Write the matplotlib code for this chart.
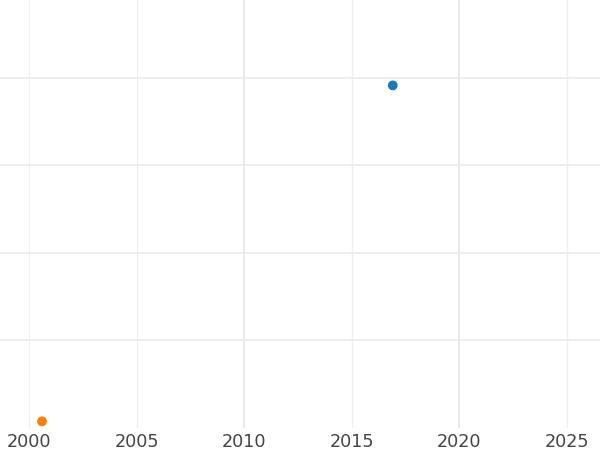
import matplotlib
matplotlib.use("Agg")
import matplotlib.pyplot as plt
from matplotlib.ticker import FixedLocator, FormatStrFormatter

# data
years = [2016.9, 2000.6]
values = [3.91, 0.07]
colors = ["#1f77b4", "#ff7f0e"]

major_years = [2010, 2020]
minor_years = [2000, 2005, 2015, 2025]
y_grid = [1, 2, 3, 4]

fig = plt.figure(figsize=(6, 4.5), dpi=100)
ax = fig.add_axes([0, 0.05, 1, 0.95])

ax.scatter(years, values, c=colors, s=50, zorder=3, linewidths=0)

ax.set_xlim(1998.65, 2026.53)
ax.set_ylim(0, 4.886)

# thicker grid at 2010/2020, thin at the rest (all labelled)
ax.xaxis.set_major_locator(FixedLocator(major_years))
ax.xaxis.set_minor_locator(FixedLocator(minor_years))
ax.xaxis.set_major_formatter(FormatStrFormatter("%d"))
ax.xaxis.set_minor_formatter(FormatStrFormatter("%d"))
ax.set_yticks(y_grid)

ax.grid(which="major", axis="x", color="#e8e8e8", linewidth=1.4)
ax.grid(which="minor", axis="x", color="#efefef", linewidth=0.9)
ax.grid(which="major", axis="y", color="#e9e9e9", linewidth=1.1)
ax.set_axisbelow(True)

ax.tick_params(axis="x", which="both", length=0, pad=4, labelsize=12.7, labelcolor="#444444")
ax.tick_params(axis="y", which="both", length=0, labelleft=False)
for s in ax.spines.values():
    s.set_visible(False)

fig.savefig("out.png", dpi=100)
